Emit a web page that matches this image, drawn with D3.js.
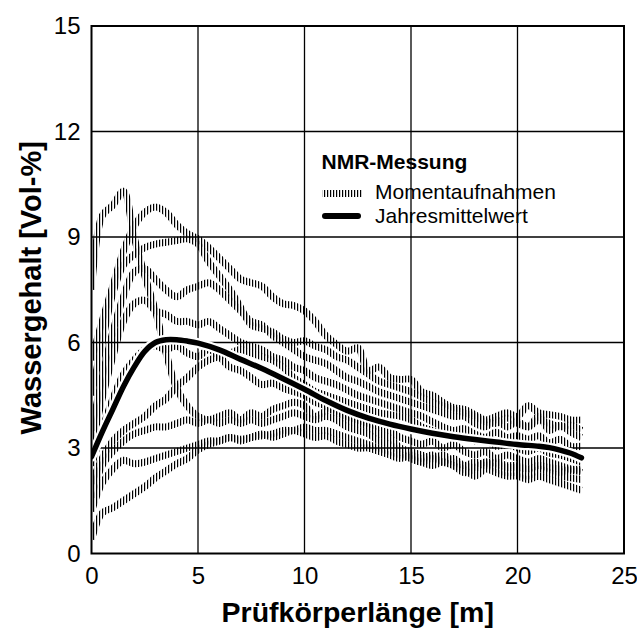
<!DOCTYPE html>
<html>
<head>
<meta charset="utf-8">
<script src="https://cdn.jsdelivr.net/npm/d3@7"></script>
<style>
body { margin: 0; background: #fff; }
text { font-family: "Liberation Sans", Arial, Helvetica, sans-serif; fill: #000; }
</style>
</head>
<body>
<svg width="637" height="630"></svg>
<script>
// positions along the specimen [m], shared by all snapshot curves
var posX = [0, 0.5, 1, 1.5, 2, 2.5, 3, 3.5, 4, 4.5, 5, 5.5, 6, 6.5, 7, 7.5, 8, 8.5, 9, 9.5,
    10, 10.5, 11, 11.5, 12, 12.5, 13, 13.5, 14, 14.5, 15, 15.5, 16, 16.5, 17, 17.5, 18, 18.5, 19, 19.5,
    20, 20.5, 21, 21.5, 22, 22.5, 23];

// NMR snapshots (Momentaufnahmen), water content [Vol-%]
var snap1 = [7.5, 9.6, 9.9, 10.3, 9.0, 7.9, 6.9, 5.7, 4.7, 4.2, 3.9, 3.8, 3.9, 4.0, 3.8, 4.0, 3.9, 4.1, 4.2, 4.3,
    4.2, 3.9, 4.05, 4.1, 3.8, 3.7, 3.6, 3.4, 3.3, 3.0, 2.9, 2.8, 2.7, 2.8, 2.6, 2.5, 2.45, 2.6, 2.55, 2.45,
    2.45, 2.4, 2.5, 2.45, 2.4, 2.35, 2.35];
var snap2 = [5.5, 6.6, 7.6, 8.6, 9.3, 9.7, 9.85, 9.7, 9.35, 9.1, 8.95, 8.7, 8.4, 8.1, 7.8, 7.7, 7.6, 7.3, 7.1, 7.05,
    6.9, 6.6, 6.2, 5.95, 5.75, 5.85, 5.2, 5.3, 5.0, 4.95, 4.95, 4.6, 4.5, 4.3, 4.15, 4.1, 3.95, 3.8, 3.9, 4.0,
    3.9, 4.2, 4.0, 3.95, 3.9, 3.8, 3.8];
var snap3 = [4.5, 6.0, 7.4, 8.2, 8.5, 8.7, 8.8, 8.85, 8.9, 8.95, 8.8, 8.3, 7.9, 7.5, 7.0, 6.5, 6.4, 6.3, 6.1, 6.0,
    6.05, 5.9, 5.8, 5.6, 5.5, 5.3, 5.1, 4.9, 4.8, 4.7, 4.6, 4.45, 4.3, 4.2, 4.1, 4.0, 3.9, 3.75, 3.7, 3.85,
    3.7, 3.6, 3.8, 3.7, 3.6, 3.65, 3.5];
var snap4 = [3.5, 5.0, 6.3, 7.3, 8.0, 8.1, 7.8, 7.5, 7.3, 7.5, 7.6, 7.7, 7.5, 7.2, 6.9, 6.6, 6.5, 6.2, 6.0, 5.8,
    5.6, 5.5, 5.4, 5.2, 5.0, 4.9, 4.75, 4.6, 4.5, 4.4, 4.3, 4.2, 4.1, 4.0, 3.9, 3.9, 3.7, 3.6, 3.8, 3.6,
    3.75, 3.6, 3.9, 3.5, 3.65, 3.45, 3.3];
var snap5 = [3.0, 4.4, 5.6, 6.6, 7.1, 7.2, 6.9, 6.8, 6.6, 6.6, 6.5, 6.6, 6.4, 6.2, 6.0, 5.9, 5.8, 5.6, 5.5, 5.3,
    5.2, 5.0, 4.9, 4.8, 4.65, 4.5, 4.4, 4.3, 4.2, 4.1, 4.0, 3.9, 3.75, 3.6, 3.5, 3.55, 3.4, 3.3, 3.45, 3.3,
    3.35, 3.25, 3.35, 3.15, 3.25, 3.05, 3.05];
var snap6 = [2.5, 3.5, 4.4, 5.1, 5.5, 5.8, 5.9, 5.8, 5.9, 5.7, 5.6, 5.8, 5.6, 5.3, 5.2, 5.0, 4.8, 4.85, 4.7, 4.6,
    4.5, 4.3, 4.2, 4.0, 3.9, 3.8, 3.7, 3.6, 3.5, 3.3, 3.2, 3.1, 3.2, 3.0, 3.1, 2.9, 2.8, 2.9, 2.7, 2.8,
    2.7, 2.6, 2.7, 2.6, 2.5, 2.4, 2.4];
var snap7 = [2.0, 2.7, 3.2, 3.5, 3.7, 3.9, 4.2, 4.4, 4.75, 5.0, 5.3, 5.5, 5.6, 5.7, 5.8, 5.7, 5.6, 5.5, 5.3, 5.0,
    4.8, 4.6, 4.5, 4.4, 4.3, 4.2, 4.1, 4.0, 3.95, 3.9, 3.8, 3.6, 3.5, 3.4, 3.3, 3.35, 3.2, 3.25, 3.05, 3.1,
    3.0, 2.9, 3.0, 2.85, 2.8, 2.7, 2.6];
var snap8 = [1.6, 2.5, 2.9, 3.2, 3.4, 3.5, 3.6, 3.6, 3.7, 3.8, 3.7, 3.8, 3.7, 3.8, 3.7, 3.8, 3.7, 3.8, 3.9, 4.0,
    3.9, 3.8, 3.9, 3.8, 3.6, 3.5, 3.4, 3.2, 3.1, 2.9, 2.7, 2.6, 2.7, 2.6, 2.5, 2.3, 2.4, 2.6, 2.4, 2.3,
    2.3, 2.2, 2.4, 2.3, 2.2, 2.15, 2.1];
var snap9 = [1.2, 2.0, 2.4, 2.65, 2.55, 2.6, 2.7, 2.8, 2.9, 3.0, 3.1, 3.2, 3.2, 3.3, 3.25, 3.3, 3.35, 3.4, 3.5, 3.5,
    3.6, 3.5, 3.5, 3.4, 3.3, 3.2, 3.1, 3.0, 2.9, 2.8, 2.7, 2.6, 2.5, 2.6, 2.5, 2.4, 2.2, 2.4, 2.3, 2.2,
    2.2, 2.1, 2.2, 2.1, 2.0, 1.9, 1.8];
var snap10 = [0.4, 1.15, 1.3, 1.5, 1.7, 1.9, 2.15, 2.35, 2.55, 2.7, 2.95, 3.1, 3.2, 3.3, 3.2, 3.3, 3.4, 3.3, 3.4, 3.5,
    3.4, 3.3, 3.35, 3.2, 3.1, 3.0, 3.0, 2.9, 2.8, 2.7, 2.8, 2.7, 2.8, 2.6, 2.7, 2.5, 2.6, 2.5, 2.6, 2.5,
    2.5, 2.4, 2.5, 2.4, 2.3, 2.4, 2.3];

var snapshots = [snap1, snap2, snap3, snap4, snap5, snap6, snap7, snap8, snap9, snap10];

// annual mean (Jahresmittelwert)
var meanX = [0, 0.5, 1, 1.5, 2, 2.5, 3, 3.5, 4, 4.5, 5, 6, 7, 8, 9, 10, 11, 12, 13, 14,
    15, 16, 17, 18, 19, 20, 21, 21.5, 22, 22.5, 23];
var meanY = [2.75, 3.45, 4.1, 4.75, 5.3, 5.75, 6.0, 6.08, 6.08, 6.04, 5.98, 5.79, 5.52, 5.26, 4.97, 4.67, 4.35, 4.07, 3.85, 3.68,
    3.54, 3.42, 3.32, 3.24, 3.17, 3.1, 3.05, 3.01, 2.94, 2.85, 2.72];

var xTicks = [0, 5, 10, 15, 20, 25];
var yTicks = [0, 3, 6, 9, 12, 15];

var svg = d3.select("svg"),
    width = +svg.attr("width"),
    height = +svg.attr("height");

var margin = { top: 26, right: 13, bottom: 76.5, left: 91.5 };

var x = d3.scaleLinear().domain([0, 25]).range([margin.left, width - margin.right]);
var y = d3.scaleLinear().domain([0, 15]).range([height - margin.bottom, margin.top]);

// vertical hatch used as stroke for the snapshot curves
var defs = svg.append("defs");
var hatch = defs.append("pattern")
    .attr("id", "hatch")
    .attr("patternUnits", "userSpaceOnUse")
    .attr("width", 3)
    .attr("height", 12);
hatch.append("rect")
    .attr("x", 0).attr("y", 0)
    .attr("width", 1.2).attr("height", 12)
    .attr("fill", "#000");

defs.append("clipPath").attr("id", "plot-clip")
    .append("rect")
    .attr("x", x(0)).attr("y", y(15))
    .attr("width", x(25) - x(0)).attr("height", y(0) - y(15));

// grid
var grid = svg.append("g").attr("class", "grid");
grid.selectAll("line.vx")
    .data(xTicks.slice(1, -1))
    .enter().append("line")
    .attr("class", "vx")
    .attr("x1", function (d) { return x(d); })
    .attr("x2", function (d) { return x(d); })
    .attr("y1", y(0))
    .attr("y2", y(15))
    .attr("stroke", "#000")
    .attr("stroke-width", 1.3);
grid.selectAll("line.hy")
    .data(yTicks.slice(1, -1))
    .enter().append("line")
    .attr("class", "hy")
    .attr("x1", x(0))
    .attr("x2", x(25))
    .attr("y1", function (d) { return y(d); })
    .attr("y2", function (d) { return y(d); })
    .attr("stroke", "#000")
    .attr("stroke-width", 1.3);

var snapLine = d3.line()
    .x(function (d) { return x(d[0]); })
    .y(function (d) { return y(d[1]); })
    .curve(d3.curveCatmullRom.alpha(0.5));

var plot = svg.append("g").attr("clip-path", "url(#plot-clip)");

plot.selectAll("path.snap")
    .data(snapshots)
    .enter().append("path")
    .attr("class", "snap")
    .attr("d", function (s) { return snapLine(s.map(function (v, i) { return [posX[i], v]; })); })
    .attr("fill", "none")
    .attr("stroke", "url(#hatch)")
    .attr("stroke-width", 7)
    .attr("stroke-linejoin", "round");

var meanPts = meanX.map(function (v, i) { return [v, meanY[i]]; });

plot.append("path")
    .attr("d", snapLine(meanPts))
    .attr("fill", "none")
    .attr("stroke", "#fff")
    .attr("stroke-width", 10)
    .attr("stroke-linecap", "round");

plot.append("path")
    .attr("d", snapLine(meanPts))
    .attr("fill", "none")
    .attr("stroke", "#000")
    .attr("stroke-width", 5.5)
    .attr("stroke-linecap", "round");

// frame
svg.append("rect")
    .attr("x", x(0)).attr("y", y(15))
    .attr("width", x(25) - x(0)).attr("height", y(0) - y(15))
    .attr("fill", "none")
    .attr("stroke", "#000")
    .attr("stroke-width", 2);

// axes
var xAxis = svg.append("g")
    .attr("transform", "translate(0," + y(0) + ")")
    .call(d3.axisBottom(x).tickValues(xTicks).tickSize(0).tickPadding(13).tickFormat(d3.format("d")));
var yAxis = svg.append("g")
    .attr("transform", "translate(" + x(0) + ",0)")
    .call(d3.axisLeft(y).tickValues(yTicks).tickSize(0).tickPadding(11).tickFormat(d3.format("d")));

[xAxis, yAxis].forEach(function (a) {
    a.select(".domain").remove();
    a.selectAll("text")
        .attr("font-family", "Liberation Sans, Arial, sans-serif")
        .attr("font-size", 24)
        .attr("fill", "#000");
});

svg.append("text")
    .attr("x", (x(0) + x(25)) / 2)
    .attr("y", 622)
    .attr("text-anchor", "middle")
    .attr("font-size", 28.5)
    .attr("font-weight", "bold")
    .text("Prüfkörperlänge [m]");

svg.append("text")
    .attr("transform", "translate(41," + ((y(0) + y(15)) / 2 - 2) + ") rotate(-90)")
    .attr("text-anchor", "middle")
    .attr("font-size", 29)
    .attr("font-weight", "bold")
    .text("Wassergehalt [Vol-%]");

// legend
var legend = svg.append("g").attr("class", "legend");
legend.append("text")
    .attr("x", 321.5).attr("y", 169)
    .attr("font-size", 21)
    .attr("font-weight", "bold")
    .text("NMR-Messung");
legend.append("line")
    .attr("x1", 322).attr("x2", 362)
    .attr("y1", 193.5).attr("y2", 193.5)
    .attr("stroke", "url(#hatch)")
    .attr("stroke-width", 7);
legend.append("text")
    .attr("x", 375).attr("y", 199)
    .attr("font-size", 21)
    .text("Momentaufnahmen");
legend.append("line")
    .attr("x1", 325).attr("x2", 358)
    .attr("y1", 216).attr("y2", 216)
    .attr("stroke", "#000")
    .attr("stroke-width", 6)
    .attr("stroke-linecap", "round");
legend.append("text")
    .attr("x", 375).attr("y", 223)
    .attr("font-size", 21)
    .text("Jahresmittelwert");
</script>
</body>
</html>
